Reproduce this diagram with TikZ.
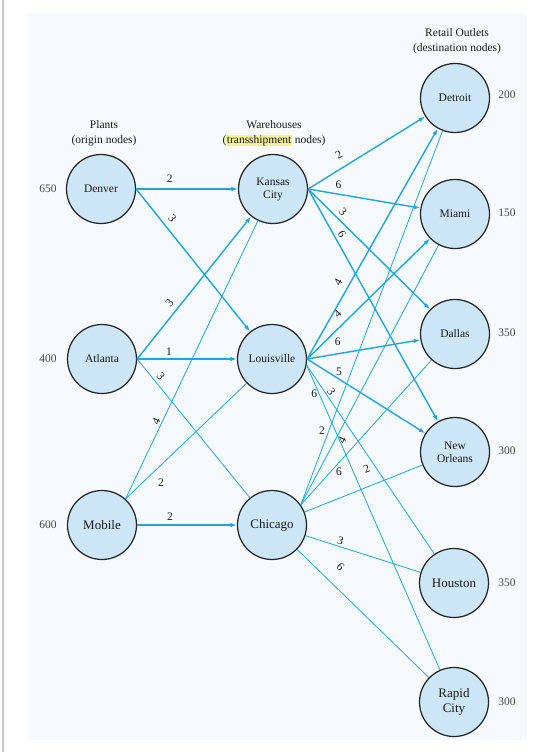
\documentclass[tikz,border=0pt]{standalone}
\usepackage{fontspec}
\setmainfont{Liberation Serif}
\usetikzlibrary{arrows.meta}
\definecolor{edgec}{HTML}{1EA5E1}
\definecolor{nodefill}{HTML}{CCE6F7}
\definecolor{hl}{HTML}{F2F28E}
\definecolor{bgc}{HTML}{F6FAFD}
\definecolor{txt}{HTML}{1A1A1A}
\definecolor{numc}{HTML}{444444}
\setlength{\fboxsep}{0.5pt}
\begin{document}
\begin{tikzpicture}[x=1pt,y=-1pt,
  city/.style={circle, draw=black!85, line width=1.25pt, fill=nodefill, minimum size=69pt, inner sep=0pt, align=center, font=\fontsize{11.5}{13}\selectfont, text=txt},
  newcity/.style={city, font=\fontsize{13}{15}\selectfont},
  mainedge/.style={draw=edgec, line width=1.4pt, -{Latex[length=6.5pt,width=4.5pt]}},
  addedge/.style={draw=edgec, line width=0.8pt},
  cost/.style={font=\fontsize{11.5}{13}\selectfont, text=txt, inner sep=1.5pt},
  supply/.style={font=\fontsize{11.5}{13}\selectfont, text=numc},
  hdr/.style={font=\fontsize{11.5}{15}\selectfont, text=txt, align=center}
]
\useasboundingbox (0,0) rectangle (543,752);
\fill[bgc] (28,13) rectangle (527,740);
\draw[black!22, line width=1.2pt] (3,0) -- (3,752);

% headers
\node[hdr] (h1) at (104,133.5) {Plants\\(origin nodes)};
\node[hdr] (h2) at (274,133.5) {Warehouses\\(\colorbox{hl}{transshipment} nodes)};
\node[hdr] (h3) at (457,41) {Retail Outlets\\(destination nodes)};

% nodes
\node[city] (den) at (101,189) {Denver};
\node[city] (atl) at (102,359) {Atlanta};
\node[newcity] (mob) at (102,525) {Mobile};
\node[city] (kc) at (273,189) {Kansas\\City};
\node[city] (lou) at (272,359) {Louisville};
\node[newcity] (chi) at (272,525) {Chicago};
\node[city] (det) at (455,98) {Detroit};
\node[city] (mia) at (455,214) {Miami};
\node[city] (dal) at (455,334) {Dallas};
\node[city] (nor) at (455,452) {New\\Orleans};
\node[newcity] (hou) at (454,583) {Houston};
\node[newcity] (rc) at (454,702) {Rapid\\City};

% supplies / demands
\node[supply] (s1) at (48,189) {650};
\node[supply] (s2) at (48,359) {400};
\node[supply] (s3) at (48,525) {600};
\node[supply] (d1) at (507,95) {200};
\node[supply] (d2) at (507,213) {150};
\node[supply] (d3) at (507,333) {350};
\node[supply] (d4) at (507,451) {300};
\node[supply] (d5) at (507,583) {350};
\node[supply] (d6) at (507,702) {300};

% plants -> warehouses
\draw[mainedge] (den.east) -- node[cost,pos=.33,above=4pt] {2} (kc);
\draw[mainedge] (den.east) -- node[cost,pos=.25,sloped,above=4pt] {3} (lou);
\draw[mainedge] (atl.east) -- node[cost,pos=.35,sloped,above=3.5pt] {3} (kc);
\draw[mainedge] (atl.east) -- node[cost,pos=.32,above=1pt] {1} (lou);
\draw[addedge] (atl.east) -- node[cost,pos=.16,sloped,above=1.5pt] {3} (chi);
\draw[addedge] (mob.48) -- node[cost,pos=.27,sloped,above=0pt] {4} (kc);
\draw[addedge] (mob.48) -- node[cost,pos=.22,below right=4pt] {2} (lou);
\draw[mainedge] (mob) -- node[cost,pos=.33,above=2pt] {2} (chi);

% Kansas City -> outlets
\draw[mainedge] (kc.east) -- node[cost,pos=.32,sloped,above=7pt] {2} (det);
\draw[mainedge] (kc.east) -- node[cost,pos=.27,above=3pt] {6} (mia);
\draw[mainedge] (kc.east) -- node[cost,pos=.24,sloped,above=2pt] {3} (dal);
\draw[mainedge] (kc.east) -- node[cost,pos=.21,sloped,above=1.5pt] {6} (nor);

% Louisville -> outlets
\draw[mainedge] (lou.east) -- node[cost,pos=.31,sloped,above=5pt] {4} (det);
\draw[mainedge] (lou.east) -- node[cost,pos=.31,sloped,above=5pt] {4} (mia);
\draw[mainedge] (lou.east) -- node[cost,pos=.27,above=6pt] {6} (dal);
\draw[mainedge] (lou.east) -- node[cost,pos=.27,above=1pt] {5} (nor);
\draw[addedge] (lou.-10) -- node[cost,pos=.157,sloped,above=0pt] {3} (hou);
\draw[addedge] (lou.-10) -- node[cost,pos=.093,left=0pt] {6} (rc);

% Chicago -> outlets
\draw[addedge] (chi.35) -- node[cost,pos=.197,left=2pt] {2} (det);
\draw[addedge] (chi.35) -- node[cost,pos=.26,sloped,below=0.5pt] {4} (mia);
\draw[addedge] (chi.35) -- node[cost,pos=.263,below right=-1pt] {6} (dal);
\draw[addedge] (chi) -- node[cost,pos=.58,sloped,above=11pt] {2} (nor);
\draw[addedge] (chi) -- node[cost,pos=.29,sloped,above=0pt] {3} (hou);
\draw[addedge] (chi) -- node[cost,pos=.236,sloped,above=12pt] {6} (rc);
\end{tikzpicture}
\end{document}
